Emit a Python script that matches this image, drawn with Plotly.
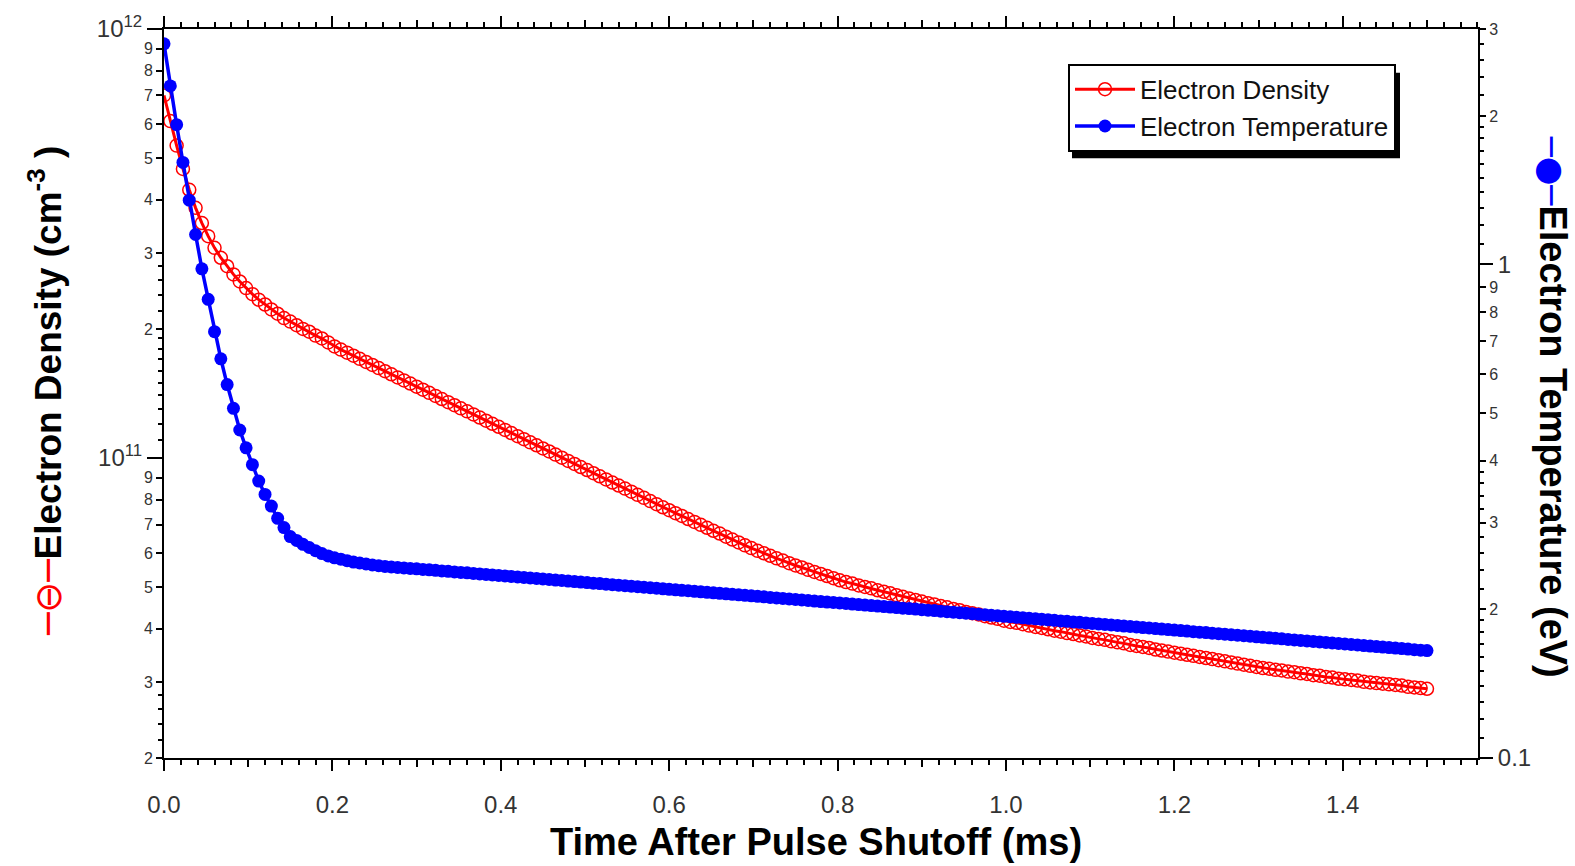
import math
import plotly.graph_objects as go

# ---------------- data ----------------
time_ms = [
    0.0, 0.0075, 0.015, 0.0225, 0.03, 0.0375, 0.045, 0.0525, 0.06, 0.0675,
    0.075, 0.0825, 0.09, 0.0975, 0.105, 0.1125, 0.12, 0.1275, 0.135, 0.1425,
    0.15, 0.1575, 0.165, 0.1725, 0.18, 0.1875, 0.195, 0.2025, 0.21, 0.2175,
    0.225, 0.2325, 0.24, 0.2475, 0.255, 0.2625, 0.27, 0.2775, 0.285, 0.2925,
    0.3, 0.3075, 0.315, 0.3225, 0.33, 0.3375, 0.345, 0.3525, 0.36, 0.3675,
    0.375, 0.3825, 0.39, 0.3975, 0.405, 0.4125, 0.42, 0.4275, 0.435, 0.4425,
    0.45, 0.4575, 0.465, 0.4725, 0.48, 0.4875, 0.495, 0.5025, 0.51, 0.5175,
    0.525, 0.5325, 0.54, 0.5475, 0.555, 0.5625, 0.57, 0.5775, 0.585, 0.5925,
    0.6, 0.6075, 0.615, 0.6225, 0.63, 0.6375, 0.645, 0.6525, 0.66, 0.6675,
    0.675, 0.6825, 0.69, 0.6975, 0.705, 0.7125, 0.72, 0.7275, 0.735, 0.7425,
    0.75, 0.7575, 0.765, 0.7725, 0.78, 0.7875, 0.795, 0.8025, 0.81, 0.8175,
    0.825, 0.8325, 0.84, 0.8475, 0.855, 0.8625, 0.87, 0.8775, 0.885, 0.8925,
    0.9, 0.9075, 0.915, 0.9225, 0.93, 0.9375, 0.945, 0.9525, 0.96, 0.9675,
    0.975, 0.9825, 0.99, 0.9975, 1.005, 1.0125, 1.02, 1.0275, 1.035, 1.0425,
    1.05, 1.0575, 1.065, 1.0725, 1.08, 1.0875, 1.095, 1.1025, 1.11, 1.1175,
    1.125, 1.1325, 1.14, 1.1475, 1.155, 1.1625, 1.17, 1.1775, 1.185, 1.1925,
    1.2, 1.2075, 1.215, 1.2225, 1.23, 1.2375, 1.245, 1.2525, 1.26, 1.2675,
    1.275, 1.2825, 1.29, 1.2975, 1.305, 1.3125, 1.32, 1.3275, 1.335, 1.3425,
    1.35, 1.3575, 1.365, 1.3725, 1.38, 1.3875, 1.395, 1.4025, 1.41, 1.4175,
    1.425, 1.4325, 1.44, 1.4475, 1.455, 1.4625, 1.47, 1.4775, 1.485, 1.4925,
    1.5,
]

# electron density, in units of 1e11 cm^-3
density_1e11 = [
    7.00, 6.10, 5.35, 4.72, 4.22, 3.83, 3.53, 3.29, 3.09, 2.93,
    2.80, 2.68, 2.58, 2.49, 2.41, 2.34, 2.28, 2.22, 2.17, 2.12,
    2.08, 2.04, 2.00, 1.97, 1.93, 1.90, 1.86, 1.820, 1.790, 1.761,
    1.732, 1.703, 1.675, 1.648, 1.621, 1.594, 1.568, 1.542, 1.517, 1.492,
    1.467, 1.443, 1.419, 1.396, 1.373, 1.350, 1.328, 1.306, 1.285, 1.264,
    1.243, 1.222, 1.202, 1.183, 1.163, 1.144, 1.125, 1.107, 1.088, 1.071,
    1.053, 1.036, 1.019, 1.002, 0.985, 0.969, 0.953, 0.938, 0.922, 0.907,
    0.892, 0.877, 0.863, 0.849, 0.835, 0.821, 0.808, 0.794, 0.781, 0.768,
    0.756, 0.744, 0.733, 0.721, 0.710, 0.699, 0.688, 0.677, 0.667, 0.656,
    0.646, 0.636, 0.626, 0.617, 0.608, 0.600, 0.592, 0.584, 0.577, 0.569,
    0.562, 0.556, 0.549, 0.543, 0.537, 0.531, 0.525, 0.519, 0.514, 0.510,
    0.505, 0.501, 0.497, 0.492, 0.488, 0.484, 0.479, 0.475, 0.471, 0.467,
    0.463, 0.459, 0.456, 0.452, 0.449, 0.445, 0.442, 0.438, 0.435, 0.432,
    0.428, 0.425, 0.422, 0.418, 0.415, 0.413, 0.410, 0.407, 0.404, 0.402,
    0.399, 0.396, 0.394, 0.391, 0.389, 0.386, 0.384, 0.381, 0.379, 0.377,
    0.374, 0.372, 0.370, 0.367, 0.365, 0.363, 0.361, 0.358, 0.356, 0.354,
    0.352, 0.350, 0.348, 0.346, 0.344, 0.342, 0.340, 0.338, 0.336, 0.334,
    0.332, 0.330, 0.328, 0.326, 0.324, 0.323, 0.321, 0.320, 0.318, 0.317,
    0.315, 0.314, 0.312, 0.311, 0.309, 0.308, 0.306, 0.305, 0.304, 0.303,
    0.301, 0.300, 0.299, 0.298, 0.297, 0.296, 0.295, 0.293, 0.292, 0.291,
    0.290,
]

# electron temperature, eV
temperature_eV = [
    2.80, 2.30, 1.92, 1.61, 1.35, 1.15, 0.98, 0.85, 0.731, 0.644,
    0.571, 0.511, 0.462, 0.425, 0.393, 0.364, 0.342, 0.324, 0.306, 0.293,
    0.281, 0.276, 0.271, 0.267, 0.263, 0.2596, 0.2567, 0.2545, 0.2528, 0.2511,
    0.2495, 0.2484, 0.2472, 0.2461, 0.2452, 0.2444, 0.2438, 0.2432, 0.2427, 0.2421,
    0.2417, 0.2411, 0.2406, 0.2400, 0.2394, 0.2389, 0.2383, 0.2377, 0.2372, 0.2366,
    0.2360, 0.2355, 0.2349, 0.2344, 0.2338, 0.2333, 0.2327, 0.2322, 0.2316, 0.2311,
    0.2305, 0.2300, 0.2294, 0.2289, 0.2283, 0.2278, 0.2272, 0.2267, 0.2261, 0.2256,
    0.2250, 0.2245, 0.2240, 0.2234, 0.2229, 0.2224, 0.2218, 0.2213, 0.2208, 0.2202,
    0.2197, 0.2192, 0.2187, 0.2182, 0.2176, 0.2171, 0.2166, 0.2161, 0.2156, 0.2151,
    0.2146, 0.2141, 0.2136, 0.2131, 0.2126, 0.2121, 0.2115, 0.2110, 0.2105, 0.2100,
    0.2095, 0.2090, 0.2085, 0.2080, 0.2075, 0.2070, 0.2066, 0.2061, 0.2056, 0.2051,
    0.2046, 0.2041, 0.2036, 0.2032, 0.2027, 0.2022, 0.2017, 0.2012, 0.2008, 0.2003,
    0.1998, 0.1993, 0.1989, 0.1984, 0.1979, 0.1975, 0.1970, 0.1965, 0.1961, 0.1956,
    0.1951, 0.1946, 0.1942, 0.1937, 0.1933, 0.1928, 0.1923, 0.1919, 0.1914, 0.1910,
    0.1905, 0.1901, 0.1896, 0.1892, 0.1887, 0.1883, 0.1878, 0.1874, 0.1869, 0.1865,
    0.1860, 0.1856, 0.1851, 0.1847, 0.1843, 0.1838, 0.1834, 0.1829, 0.1825, 0.1821,
    0.1816, 0.1812, 0.1808, 0.1803, 0.1799, 0.1795, 0.1790, 0.1786, 0.1782, 0.1777,
    0.1773, 0.1769, 0.1765, 0.1760, 0.1756, 0.1752, 0.1748, 0.1744, 0.1739, 0.1735,
    0.1731, 0.1727, 0.1723, 0.1719, 0.1715, 0.1710, 0.1706, 0.1702, 0.1698, 0.1694,
    0.1690, 0.1686, 0.1682, 0.1678, 0.1674, 0.1670, 0.1666, 0.1662, 0.1658, 0.1654,
    0.1651,
]

# ---------------- ticks ----------------
x_major_vals = [0.0, 0.2, 0.4, 0.6, 0.8, 1.0, 1.2, 1.4]
x_major_text = ["0.0", "0.2", "0.4", "0.6", "0.8", "1.0", "1.2", "1.4"]
x_mid_vals = [0.1, 0.3, 0.5, 0.7, 0.9, 1.1, 1.3, 1.5]

dens_decade_vals = [1e11, 1e12]
dens_decade_text = ["10<sup>11</sup>", "10<sup>12</sup>"]
dens_sub_vals = [2e10, 3e10, 4e10, 5e10, 6e10, 7e10, 8e10, 9e10,
                 2e11, 3e11, 4e11, 5e11, 6e11, 7e11, 8e11, 9e11]
dens_sub_text = ["2", "3", "4", "5", "6", "7", "8", "9",
                 "2", "3", "4", "5", "6", "7", "8", "9"]
dens_minor_vals = [2.2e10, 2.4e10, 2.6e10, 2.8e10,
                   1.1e11, 1.2e11, 1.3e11, 1.4e11, 1.5e11, 1.6e11, 1.7e11, 1.8e11, 1.9e11,
                   2.2e11, 2.4e11, 2.6e11, 2.8e11]

temp_decade_vals = [0.1, 1.0]
temp_decade_text = ["0.1", "1"]
temp_sub_vals = [0.2, 0.3, 0.4, 0.5, 0.6, 0.7, 0.8, 0.9, 2.0, 3.0]
temp_sub_text = ["2", "3", "4", "5", "6", "7", "8", "9", "2", "3"]
temp_minor_vals = [0.11, 0.12, 0.13, 0.14, 0.15, 0.16, 0.17, 0.18, 0.19,
                   0.22, 0.24, 0.26, 0.28, 0.32, 0.34, 0.36, 0.38,
                   1.1, 1.2, 1.3, 1.4, 1.5, 1.6, 1.7, 1.8, 1.9,
                   2.2, 2.4, 2.6, 2.8]

X_RANGE = [0.0, 1.5606]
DENS_RANGE = [math.log10(2e10), 12.0]
TEMP_RANGE = [-1.0, math.log10(3.0)]

FONT = "Liberation Sans, Arial, sans-serif"
TICK_COLOR = "#333333"

# plot-area geometry in pixels (used only for placing texts / legend)
PL, PR, PT, PB = 164, 1478, 25, 758


def px_x(px):
    return (px - PL) / (PR - PL)


def px_y(py):
    return (PB - py) / (PB - PT)


density = [v * 1e11 for v in density_1e11]

fig = go.Figure()

fig.add_trace(go.Scatter(
    x=time_ms, y=density, name="Electron Density", mode="lines+markers",
    line=dict(color="#ff0000", width=3),
    marker=dict(symbol="circle-open", size=13, color="#ff0000", line=dict(width=1.5, color="#ff0000")),
    xaxis="x", yaxis="y",
))
fig.add_trace(go.Scatter(
    x=time_ms, y=temperature_eV, name="Electron Temperature", mode="lines+markers",
    line=dict(color="#0000ff", width=3.5),
    marker=dict(symbol="circle", size=13, color="#0000ff"),
    xaxis="x", yaxis="y2",
))
# empty helper traces so that the extra tick axes are instantiated
for xa, ya in (("x2", "y"), ("x", "y3"), ("x", "y4")):
    fig.add_trace(go.Scatter(x=[None], y=[None], xaxis=xa, yaxis=ya,
                             showlegend=False, hoverinfo="skip"))

common_axis = dict(showgrid=False, zeroline=False, ticks="outside", tickcolor="black",
                   linecolor="black")

fig.update_layout(
    width=1575, height=866,
    margin=dict(l=PL, r=1575 - PR, t=PT, b=866 - PB),
    paper_bgcolor="white", plot_bgcolor="white",
    font=dict(family=FONT, color=TICK_COLOR),
    xaxis=dict(
        **common_axis, range=X_RANGE, showline=True, linewidth=2, mirror="ticks",
        tickmode="array", tickvals=x_major_vals, ticktext=x_major_text,
        ticklen=11, tickwidth=2, tickfont=dict(size=24, color=TICK_COLOR),
        ticklabelstandoff=13,
        minor=dict(dtick=0.02, tick0=0, ticks="outside", ticklen=5, tickwidth=1.5, tickcolor="black"),
        anchor="y",
    ),
    xaxis2=dict(
        **common_axis, range=X_RANGE, overlaying="x", anchor="y", side="bottom",
        showline=False, mirror="ticks", tickmode="array", tickvals=x_mid_vals,
        showticklabels=False, ticklen=8, tickwidth=1.5,
    ),
    yaxis=dict(
        **common_axis, type="log", range=DENS_RANGE, showline=True, linewidth=2,
        tickmode="array", tickvals=dens_sub_vals, ticktext=dens_sub_text,
        ticklen=6, tickwidth=2, tickfont=dict(size=16, color=TICK_COLOR),
        minor=dict(tickmode="array", tickvals=dens_minor_vals, ticks="outside",
                   ticklen=4, tickwidth=1.5, tickcolor="black"),
        anchor="x", side="left",
    ),
    yaxis3=dict(
        **common_axis, type="log", range=DENS_RANGE, overlaying="y", side="left", anchor="x",
        showline=False, tickmode="array", tickvals=dens_decade_vals, ticktext=dens_decade_text,
        ticklen=16, tickwidth=2, tickfont=dict(size=24, color=TICK_COLOR),
    ),
    yaxis2=dict(
        **common_axis, type="log", range=TEMP_RANGE, overlaying="y", side="right", anchor="x",
        showline=True, linewidth=2,
        tickmode="array", tickvals=temp_sub_vals, ticktext=temp_sub_text,
        ticklen=6, tickwidth=2, tickfont=dict(size=16, color=TICK_COLOR),
        minor=dict(tickmode="array", tickvals=temp_minor_vals, ticks="outside",
                   ticklen=4, tickwidth=1.5, tickcolor="black"),
    ),
    yaxis4=dict(
        **common_axis, type="log", range=TEMP_RANGE, overlaying="y", side="right", anchor="x",
        showline=False, tickmode="array", tickvals=temp_decade_vals, ticktext=temp_decade_text,
        ticklen=14, tickwidth=2, tickfont=dict(size=24, color=TICK_COLOR),
    ),
    legend=dict(
        x=px_x(1068), y=px_y(60), xanchor="left", yanchor="top",
        bgcolor="white", bordercolor="black", borderwidth=2,
        font=dict(family=FONT, size=26, color="#111111"),
        itemwidth=60, tracegroupgap=0,
    ),
    showlegend=True,
)

# legend drop shadow
fig.add_shape(
    type="rect", xref="paper", yref="paper", layer="above",
    x0=px_x(1072), x1=px_x(1400), y0=px_y(69), y1=px_y(155),
    line=dict(width=0), fillcolor="black",
)

fig.add_annotation(
    text="Time After Pulse Shutoff (ms)", xref="paper", yref="paper",
    x=px_x(816), y=px_y(842), xanchor="center", yanchor="middle", showarrow=False,
    font=dict(family=FONT, size=38, color="black", weight="bold"),
)
fig.add_annotation(
    text="<span style='color:#ff0000;font-family:DejaVu Sans;font-weight:normal'>─⊖─</span>Electron Density (cm<sup>-3</sup> )",
    xref="paper", yref="paper", x=px_x(46), y=px_y(389), xanchor="center", yanchor="middle",
    textangle=-90, showarrow=False,
    font=dict(family=FONT, size=37, color="black", weight="bold"),
)
fig.add_annotation(
    text="<span style='color:#0000ff;font-family:DejaVu Sans;font-weight:normal;font-size:33px'>─●─</span>Electron Temperature (eV)",
    xref="paper", yref="paper", x=px_x(1553), y=px_y(405), xanchor="center", yanchor="middle",
    textangle=90, showarrow=False,
    font=dict(family=FONT, size=38, color="black", weight="bold"),
)

fig.write_html("out.html")
